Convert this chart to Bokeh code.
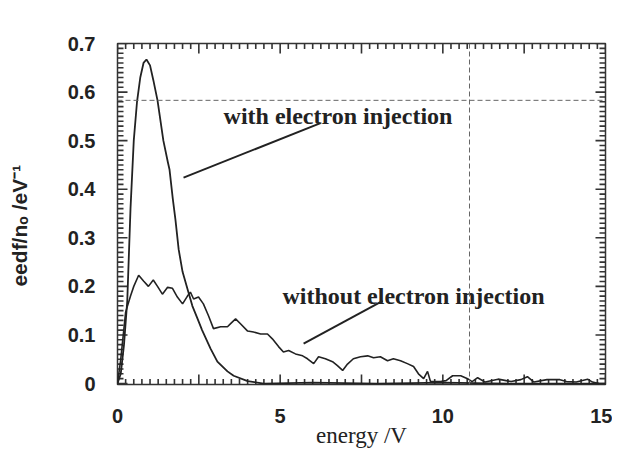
from bokeh.plotting import figure
from bokeh.models import LinearAxis, FixedTicker, CustomJSTickFormatter, Span
from bokeh.core.properties import value
from bokeh.embed import file_html
from bokeh.resources import INLINE

# ---- data ----
with_energy = [0.0, 0.1, 0.2, 0.3, 0.4, 0.5, 0.6, 0.7, 0.8, 0.89, 1.0, 1.1, 1.23,
               1.41, 1.55, 1.6, 1.7, 1.78, 1.88, 2.0, 2.18, 2.3, 2.45, 2.6, 2.86,
               3.07, 3.38, 3.57, 4.0, 4.5, 6.0, 8.0, 10.0, 12.0, 15.0]
with_eedf = [0.0, 0.02, 0.08, 0.17, 0.36, 0.50, 0.58, 0.63, 0.66, 0.667, 0.655,
             0.625, 0.583, 0.50, 0.455, 0.44, 0.38, 0.338, 0.276, 0.23, 0.188,
             0.16, 0.135, 0.11, 0.072, 0.045, 0.025, 0.016, 0.005, 0.0, 0.002,
             0.0, 0.002, 0.0, 0.0]

without_energy = [0.0, 0.1, 0.25, 0.4, 0.5, 0.65, 0.8, 0.95, 1.1, 1.23, 1.38, 1.54,
                  1.69, 1.84, 2.0, 2.15, 2.24, 2.34, 2.49, 2.64, 2.8, 2.95, 3.17,
                  3.38, 3.5, 3.63, 3.78, 4.0, 4.18, 4.4, 4.61, 4.76, 4.95, 5.1, 5.26,
                  5.47, 5.69, 5.84, 6.03, 6.18, 6.39, 6.61, 6.76, 6.92, 7.07, 7.25,
                  7.47, 7.69, 7.87, 8.08, 8.3, 8.48, 8.7, 8.91, 9.1, 9.25, 9.41, 9.53,
                  9.62, 9.93, 10.1, 10.3, 10.55, 10.76, 10.9, 11.07, 11.3, 11.7, 12.1,
                  12.4, 12.6, 12.8, 13.2, 13.6, 13.8, 14.1, 14.45, 14.6, 14.8]
without_eedf = [0.0, 0.05, 0.147, 0.18, 0.2, 0.223, 0.211, 0.2, 0.213, 0.2, 0.184,
                0.198, 0.196, 0.178, 0.164, 0.18, 0.188, 0.174, 0.178, 0.164, 0.139,
                0.113, 0.117, 0.117, 0.125, 0.133, 0.123, 0.108, 0.106, 0.102, 0.102,
                0.092, 0.076, 0.065, 0.068, 0.061, 0.057, 0.051, 0.041, 0.055, 0.051,
                0.045, 0.037, 0.027, 0.04, 0.051, 0.055, 0.057, 0.053, 0.055, 0.047,
                0.051, 0.047, 0.041, 0.035, 0.02, 0.01, 0.025, 0.004, 0.004, 0.006,
                0.016, 0.016, 0.01, 0.004, 0.012, 0.003, 0.009, 0.004, 0.008, 0.014,
                0.003, 0.008, 0.008, 0.004, 0.003, 0.009, 0.003, 0.0]

x_label_ticks = [0, 5, 10, 15]
x_mid_ticks = [0, 2.5, 5, 7.5, 10, 12.5, 15]
x_minor_step = 0.25
y_label_ticks = [0, 0.1, 0.2, 0.3, 0.4, 0.5, 0.6, 0.7]
y_minor_step = 0.01

with_label = "with electron injection"
without_label = "without electron injection"

X_MIN, X_MAX = 0, 15
Y_MIN, Y_MAX = -0.002, 0.7

# ---- figure ----
p = figure(width=612, height=450, output_backend="svg", toolbar_location=None,
           x_range=(X_MIN, X_MAX), y_range=(Y_MIN, Y_MAX),
           x_axis_location=None, y_axis_location=None,
           min_border_left=117, min_border_right=7, min_border_top=43,
           min_border_bottom=64)
p.background_fill_color = "white"
p.border_fill_color = "white"
p.outline_line_color = "#333333"
p.outline_line_width = 1.5
p.xgrid.visible = False
p.ygrid.visible = False

xfmt = CustomJSTickFormatter(code="return tick.toFixed(0);")
yfmt = CustomJSTickFormatter(code="return (Math.abs(tick) < 1e-6) ? '0' : tick.toFixed(1);")


def style_axis(ax):
    ax.axis_line_color = None
    ax.major_tick_line_color = None
    ax.minor_tick_line_color = None
    ax.major_label_text_font = "Liberation Sans"
    ax.major_label_text_font_style = "bold"
    ax.major_label_text_font_size = "20px"
    ax.major_label_text_color = "#222222"


bottom = LinearAxis(ticker=FixedTicker(ticks=x_label_ticks, minor_ticks=[]),
                    formatter=xfmt, axis_label="energy /V")
style_axis(bottom)
bottom.major_label_standoff = 18
bottom.axis_label_text_font = "Liberation Serif"
bottom.axis_label_text_font_style = "normal"
bottom.axis_label_text_font_size = "23px"
bottom.axis_label_text_color = "#222222"
bottom.axis_label_standoff = -3
p.add_layout(bottom, "below")

left = LinearAxis(ticker=FixedTicker(ticks=y_label_ticks, minor_ticks=[]),
                  formatter=yfmt,
                  axis_label="eedf/n\u2092 /eV\u207b\u00b9\u00a0\u00a0\u00a0\u00a0")
style_axis(left)
left.major_label_standoff = 16
left.axis_label_text_font = "Liberation Sans"
left.axis_label_text_font_style = "bold"
left.axis_label_text_font_size = "21px"
left.axis_label_text_color = "#222222"
left.axis_label_standoff = 34
p.add_layout(left, "left")

# ---- inward ticks on all four frame sides (data units of the fixed ranges) ----
px_x = (X_MAX - X_MIN) / 488.0      # data x per pixel
px_y = (Y_MAX - Y_MIN) / 343.0      # data y per pixel

xt_pos = [i * x_minor_step for i in range(int(X_MAX / x_minor_step) + 1)]
yt_pos = [i * y_minor_step for i in range(int(round(Y_MAX / y_minor_step)) + 1)]

tick_xs, tick_ys = [], []
for v in xt_pos:
    L = (10 if any(abs(v - t) < 1e-6 for t in x_mid_ticks) else 5.5) * px_y
    tick_xs += [[v, v], [v, v]]
    tick_ys += [[Y_MIN, Y_MIN + L], [Y_MAX, Y_MAX - L]]
for v in yt_pos:
    L = (10 if any(abs(v - t) < 1e-6 for t in y_label_ticks) else 6) * px_x
    tick_xs += [[X_MIN, X_MIN + L], [X_MAX, X_MAX - L]]
    tick_ys += [[v, v], [v, v]]

p.multi_line(xs=tick_xs, ys=tick_ys, line_color="#333333", line_width=1.6)

# ---- curves ----
p.line(with_energy, with_eedf, line_color="#222222", line_width=1.8)
p.line(without_energy, without_eedf, line_color="#222222", line_width=1.6)

# ---- annotations ----
p.segment(x0=[2.03, 5.72], y0=[0.424, 0.082], x1=[6.24, 8.15], y1=[0.536, 0.170],
          line_color="#222222", line_width=2)
p.text(x=[3.26], y=[0.551], text=[with_label], text_font=value("Liberation Serif"),
       text_font_style="bold", text_font_size="24px", text_color="#222222",
       text_baseline="alphabetic", text_align="left")
p.text(x=[5.07], y=[0.18], text=[without_label], text_font=value("Liberation Serif"),
       text_font_style="bold", text_font_size="24px", text_color="#222222",
       text_baseline="alphabetic", text_align="left")

# crosshair dashed guide lines visible in the reference
p.add_layout(Span(location=0.583, dimension="width", line_color="#666666",
                  line_dash="5 3", line_width=1))
p.add_layout(Span(location=10.82, dimension="height", line_color="#666666",
                  line_dash="5 3", line_width=1))

open("out.html", "w").write(file_html(p, INLINE))
